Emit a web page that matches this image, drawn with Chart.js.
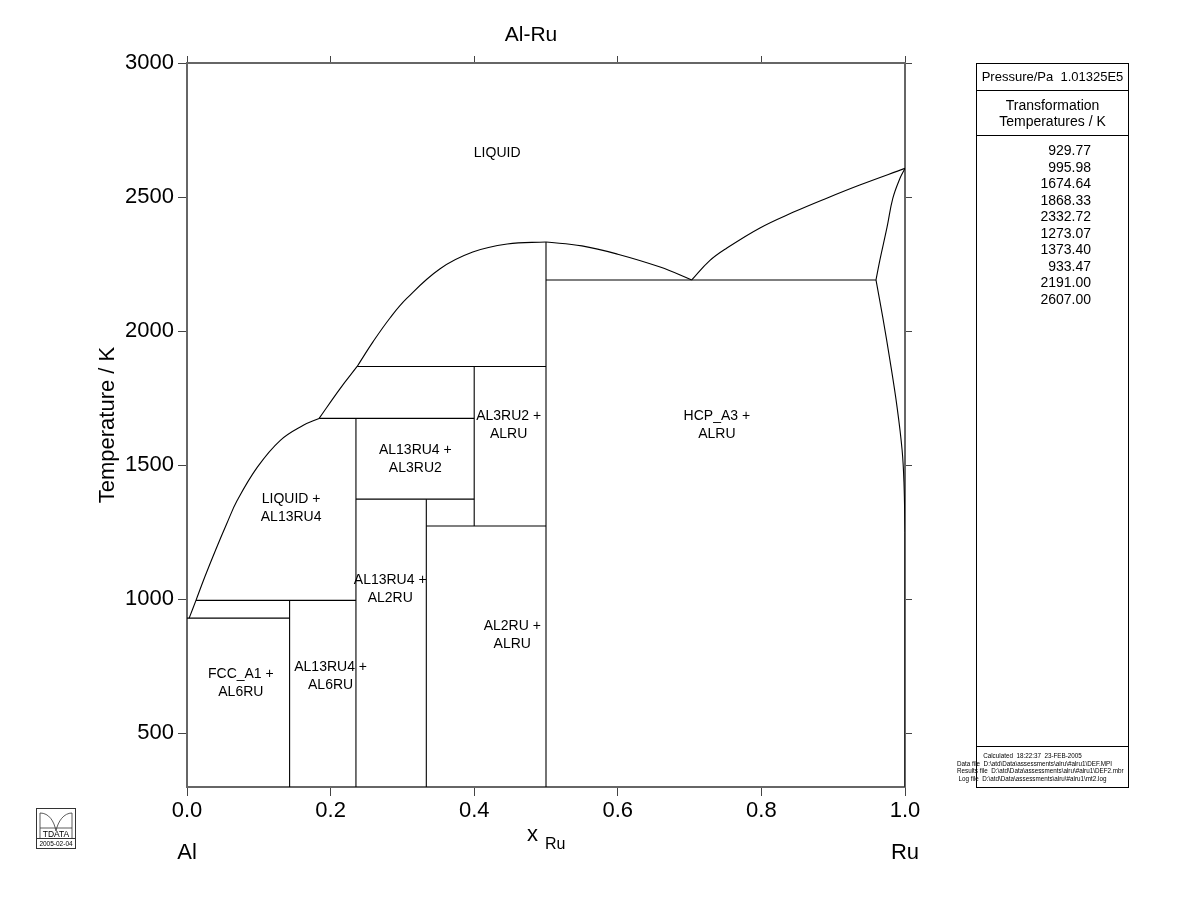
<!DOCTYPE html>
<html>
<head>
<meta charset="utf-8">
<script src="https://cdn.jsdelivr.net/npm/chart.js@4"></script>
<style>
  body { margin: 0; background: #fff; font-family: 'Liberation Sans', Arial, sans-serif; }
  #wrap { position: relative; width: 1200px; height: 923px; }
  #panel { position: absolute; left: 976px; top: 63px; width: 151px; height: 723px; border: 1px solid #000; }
  #panel .hdr { height: 26px; border-bottom: 1px solid #000; font-size: 13px; line-height: 26px; text-align: center; white-space: nowrap; }
  #panel .sub { height: 45px; border-bottom: 1px solid #000; font-size: 14px; line-height: 16px; text-align: center; padding-top: 6px; box-sizing: border-box; }
  #temps { padding-top: 6px; padding-right: 37px; text-align: right; font-size: 14px; line-height: 16.5px; }
  #foot { position: absolute; left: 0; right: 0; bottom: 0; height: 41px; border-top: 1px solid #000; font-size: 6.3px; line-height: 7.5px; text-align: center; white-space: nowrap; padding-top: 5px; box-sizing: border-box; }
  #foot div { position: relative; left: -20px; }
  #logo { position: absolute; left: 36px; top: 808px; width: 38px; height: 39px; border: 1px solid #333; font-size: 9px; }
  #logo .date { position: absolute; left: 0; right: 0; bottom: 0; height: 9px; border-top: 1px solid #333; font-size: 6.5px; line-height: 9px; text-align: center; }
</style>
</head>
<body>
<div id="wrap">
  <canvas id="chart" width="1200" height="923"></canvas>
  <div id="panel">
    <div class="hdr">Pressure/Pa&nbsp; 1.01325E5</div>
    <div class="sub">Transformation<br>Temperatures / K</div>
    <div id="temps"></div>
    <div id="foot">
      <div>Calculated&nbsp; 18:22:37&nbsp; 23-FEB-2005</div>
      <div>Data file&nbsp; D:\atd\Data\assessments\alru\#alru1\DEF.MPI</div>
      <div>Results file&nbsp; D:\atd\Data\assessments\alru\#alru1\DEF2.mbr</div>
      <div>Log file&nbsp; D:\atd\Data\assessments\alru\#alru1\mt2.log</div>
    </div>
  </div>
  <div id="logo">
    <svg width="38" height="30" style="position:absolute;left:0;top:0">
      <path d="M3 4 C12 4 17 12 19 22 C21 12 27 4 35 4" fill="none" stroke="#333" stroke-width="0.8"/>
      <line x1="3" y1="4" x2="3" y2="29" stroke="#333" stroke-width="0.8"/>
      <line x1="35" y1="4" x2="35" y2="29" stroke="#333" stroke-width="0.8"/>
      <line x1="3" y1="19" x2="35" y2="19" stroke="#333" stroke-width="0.8"/>
      <text x="19" y="28" font-size="8.5" text-anchor="middle" font-family="Liberation Sans, Arial">TDATA</text>
    </svg>
    <div class="date">2005-02-04</div>
  </div>
</div>

<script>
// axis ticks
let x_ticks = [0.0, 0.2, 0.4, 0.6, 0.8, 1.0]
let t_ticks = [500, 1000, 1500, 2000, 2500, 3000]

// invariant temperatures listed in the side box
let transformation_temps = ['929.77', '995.98', '1674.64', '1868.33', '2332.72', '1273.07', '1373.40', '933.47', '2191.00', '2607.00']

// phase boundaries, [x_Ru, T/K]
// liquidus split at the kinks (1674.64 and 1868.33)
let liquidus_al13ru4 = [[0.003, 929.77], [0.0125, 995.98], [0.025, 1085], [0.040, 1185], [0.055, 1280], [0.070, 1369],
    [0.098, 1493], [0.130, 1593], [0.162, 1649], [0.184, 1674.64]]
let liquidus_al3ru2 = [[0.184, 1674.64], [0.213, 1785], [0.237, 1868.33]]
let liquidus_alru = [[0.237, 1868.33], [0.259, 1960], [0.283, 2050], [0.306, 2122], [0.352, 2232], [0.398, 2295],
    [0.446, 2325], [0.5, 2332.72]]
let liquidus_mid = [[0.5, 2332.72], [0.55, 2318], [0.60, 2287], [0.659, 2239], [0.703, 2191]]
let liquidus_ru_side = [[0.703, 2191], [0.728, 2263], [0.752, 2310], [0.798, 2385], [0.844, 2443], [0.891, 2496],
    [0.937, 2545], [1.0, 2607]]
let solidus_hcp = [[0.9596, 2191], [0.965, 2265], [0.975, 2388], [0.983, 2495], [0.993, 2570], [1.0, 2607]]
let solvus_hcp = [[0.9596, 2191], [0.969, 2052], [0.979, 1892], [0.989, 1716], [0.996, 1556], [0.9986, 1433], [1.0, 1250]]
let solvus_hcp_low = [[1.0, 1250], [1.0, 300]]

// horizontal invariant lines
let eutectic_930 = [[0.0, 929.77], [0.1429, 929.77]]
let peritectic_996 = [[0.0125, 995.98], [0.2353, 995.98]]
let peritectic_1675 = [[0.184, 1674.64], [0.4, 1674.64]]
let peritectic_1868 = [[0.237, 1868.33], [0.5, 1868.33]]
let peritectoid_1373 = [[0.2353, 1373.40], [0.4, 1373.40]]
let peritectoid_1273 = [[0.3333, 1273.07], [0.5, 1273.07]]
let eutectic_2191 = [[0.5, 2191.00], [0.9596, 2191.00]]

// compound lines
let al6ru = [[0.1429, 300], [0.1429, 995.98]]
let al13ru4 = [[0.2353, 300], [0.2353, 1674.64]]
let al2ru = [[0.3333, 300], [0.3333, 1373.40]]
let al3ru2 = [[0.4, 1273.07], [0.4, 1868.33]]
let alru = [[0.5, 300], [0.5, 2332.72]]

// region labels [text lines, x_Ru, T]
let region_labels = [
    [['LIQUID'], 0.432, 2664],
    [['HCP_A3 +', 'ALRU'], 0.738, 1650],
    [['AL3RU2 +', 'ALRU'], 0.448, 1650],
    [['AL13RU4 +', 'AL3RU2'], 0.318, 1522],
    [['LIQUID +', 'AL13RU4'], 0.145, 1340],
    [['AL13RU4 +', 'AL2RU'], 0.283, 1037],
    [['AL2RU +', 'ALRU'], 0.453, 866],
    [['FCC_A1 +', 'AL6RU'], 0.075, 687],
    [['AL13RU4 +', 'AL6RU'], 0.200, 713],
]

document.querySelector('#temps').innerHTML = transformation_temps.map(t => '<div>' + t + '</div>').join('')

Chart.defaults.font.family = "'Liberation Sans', Arial, sans-serif"

let curves = [liquidus_al13ru4, liquidus_al3ru2, liquidus_alru, liquidus_mid, liquidus_ru_side, solidus_hcp, solvus_hcp]
let straight = [solvus_hcp_low, eutectic_930, peritectic_996, peritectic_1675, peritectic_1868, peritectoid_1373,
    peritectoid_1273, eutectic_2191, al6ru, al13ru4, al2ru, al3ru2, alru]

function make_set(pts, tension) {
    return {
        data: pts.map(p => ({ x: p[0], y: p[1] })),
        showLine: true,
        borderColor: '#000',
        borderWidth: 1.1,
        pointRadius: 0,
        tension: tension,
    }
}

let datasets = curves.map(c => make_set(c, 0.4)).concat(straight.map(s => make_set(s, 0)))

function set_ticks(list) {
    return function (scale) { scale.ticks = list.map(v => ({ value: v })) }
}

let axis_grid = { display: true, drawOnChartArea: false, drawTicks: true, tickLength: 9, color: '#444', lineWidth: 1 }
let axis_border = { display: true, color: '#666', width: 2 }

let text_plugin = {
    id: 'texts',
    afterDraw(chart) {
        let ctx = chart.ctx
        let sx = chart.scales.x, sy = chart.scales.y
        ctx.save()
        ctx.fillStyle = '#000'
        ctx.textAlign = 'center'
        ctx.textBaseline = 'middle'

        ctx.font = "14px 'Liberation Sans', Arial, sans-serif"
        region_labels.forEach(l => {
            let px = sx.getPixelForValue(l[1]), py = sy.getPixelForValue(l[2])
            let h = 17.5
            l[0].forEach((s, i) => ctx.fillText(s, px, py + (i - (l[0].length - 1) / 2) * h))
        })

        ctx.font = "21px 'Liberation Sans', Arial, sans-serif"
        ctx.fillText('Al-Ru', 531, 35)
        ctx.font = "22px 'Liberation Sans', Arial, sans-serif"
        ctx.fillText('Al', 187, 853)
        ctx.fillText('Ru', 905, 853)
        ctx.textAlign = 'left'
        ctx.fillText('x', 527, 835)
        ctx.font = "16px 'Liberation Sans', Arial, sans-serif"
        ctx.fillText('Ru', 545, 845)

        ctx.translate(108, 425)
        ctx.rotate(-Math.PI / 2)
        ctx.textAlign = 'center'
        ctx.font = "22px 'Liberation Sans', Arial, sans-serif"
        ctx.fillText('Temperature / K', 0, 0)
        ctx.restore()
    }
}

new Chart(document.querySelector('#chart'), {
    type: 'scatter',
    data: { datasets: datasets },
    options: {
        responsive: false,
        animation: false,
        devicePixelRatio: 1,
        layout: { padding: 0 },
        plugins: { legend: { display: false }, tooltip: { enabled: false } },
        scales: {
            x: {
                type: 'linear', position: 'bottom', min: 0, max: 1,
                grid: axis_grid, border: axis_border,
                ticks: { font: { size: 22 }, color: '#000', padding: 2, maxRotation: 0, callback: v => v.toFixed(1) },
                afterBuildTicks: set_ticks(x_ticks),
                afterFit: s => { s.height = 136 },
            },
            x2: {
                type: 'linear', position: 'top', min: 0, max: 1,
                grid: Object.assign({}, axis_grid, { tickLength: 7 }), border: axis_border,
                ticks: { display: false },
                afterBuildTicks: set_ticks(x_ticks),
                afterFit: s => { s.height = 63 },
            },
            y: {
                type: 'linear', position: 'left', min: 300, max: 3000,
                grid: axis_grid, border: axis_border,
                ticks: { font: { size: 22 }, color: '#000', padding: 4, callback: v => String(v) },
                afterBuildTicks: set_ticks(t_ticks),
                afterFit: s => { s.width = 187 },
            },
            y2: {
                type: 'linear', position: 'right', min: 300, max: 3000,
                grid: Object.assign({}, axis_grid, { tickLength: 7 }), border: axis_border,
                ticks: { display: false },
                afterBuildTicks: set_ticks(t_ticks),
                afterFit: s => { s.width = 295 },
            },
        }
    },
    plugins: [text_plugin]
})
</script>
</body>
</html>
